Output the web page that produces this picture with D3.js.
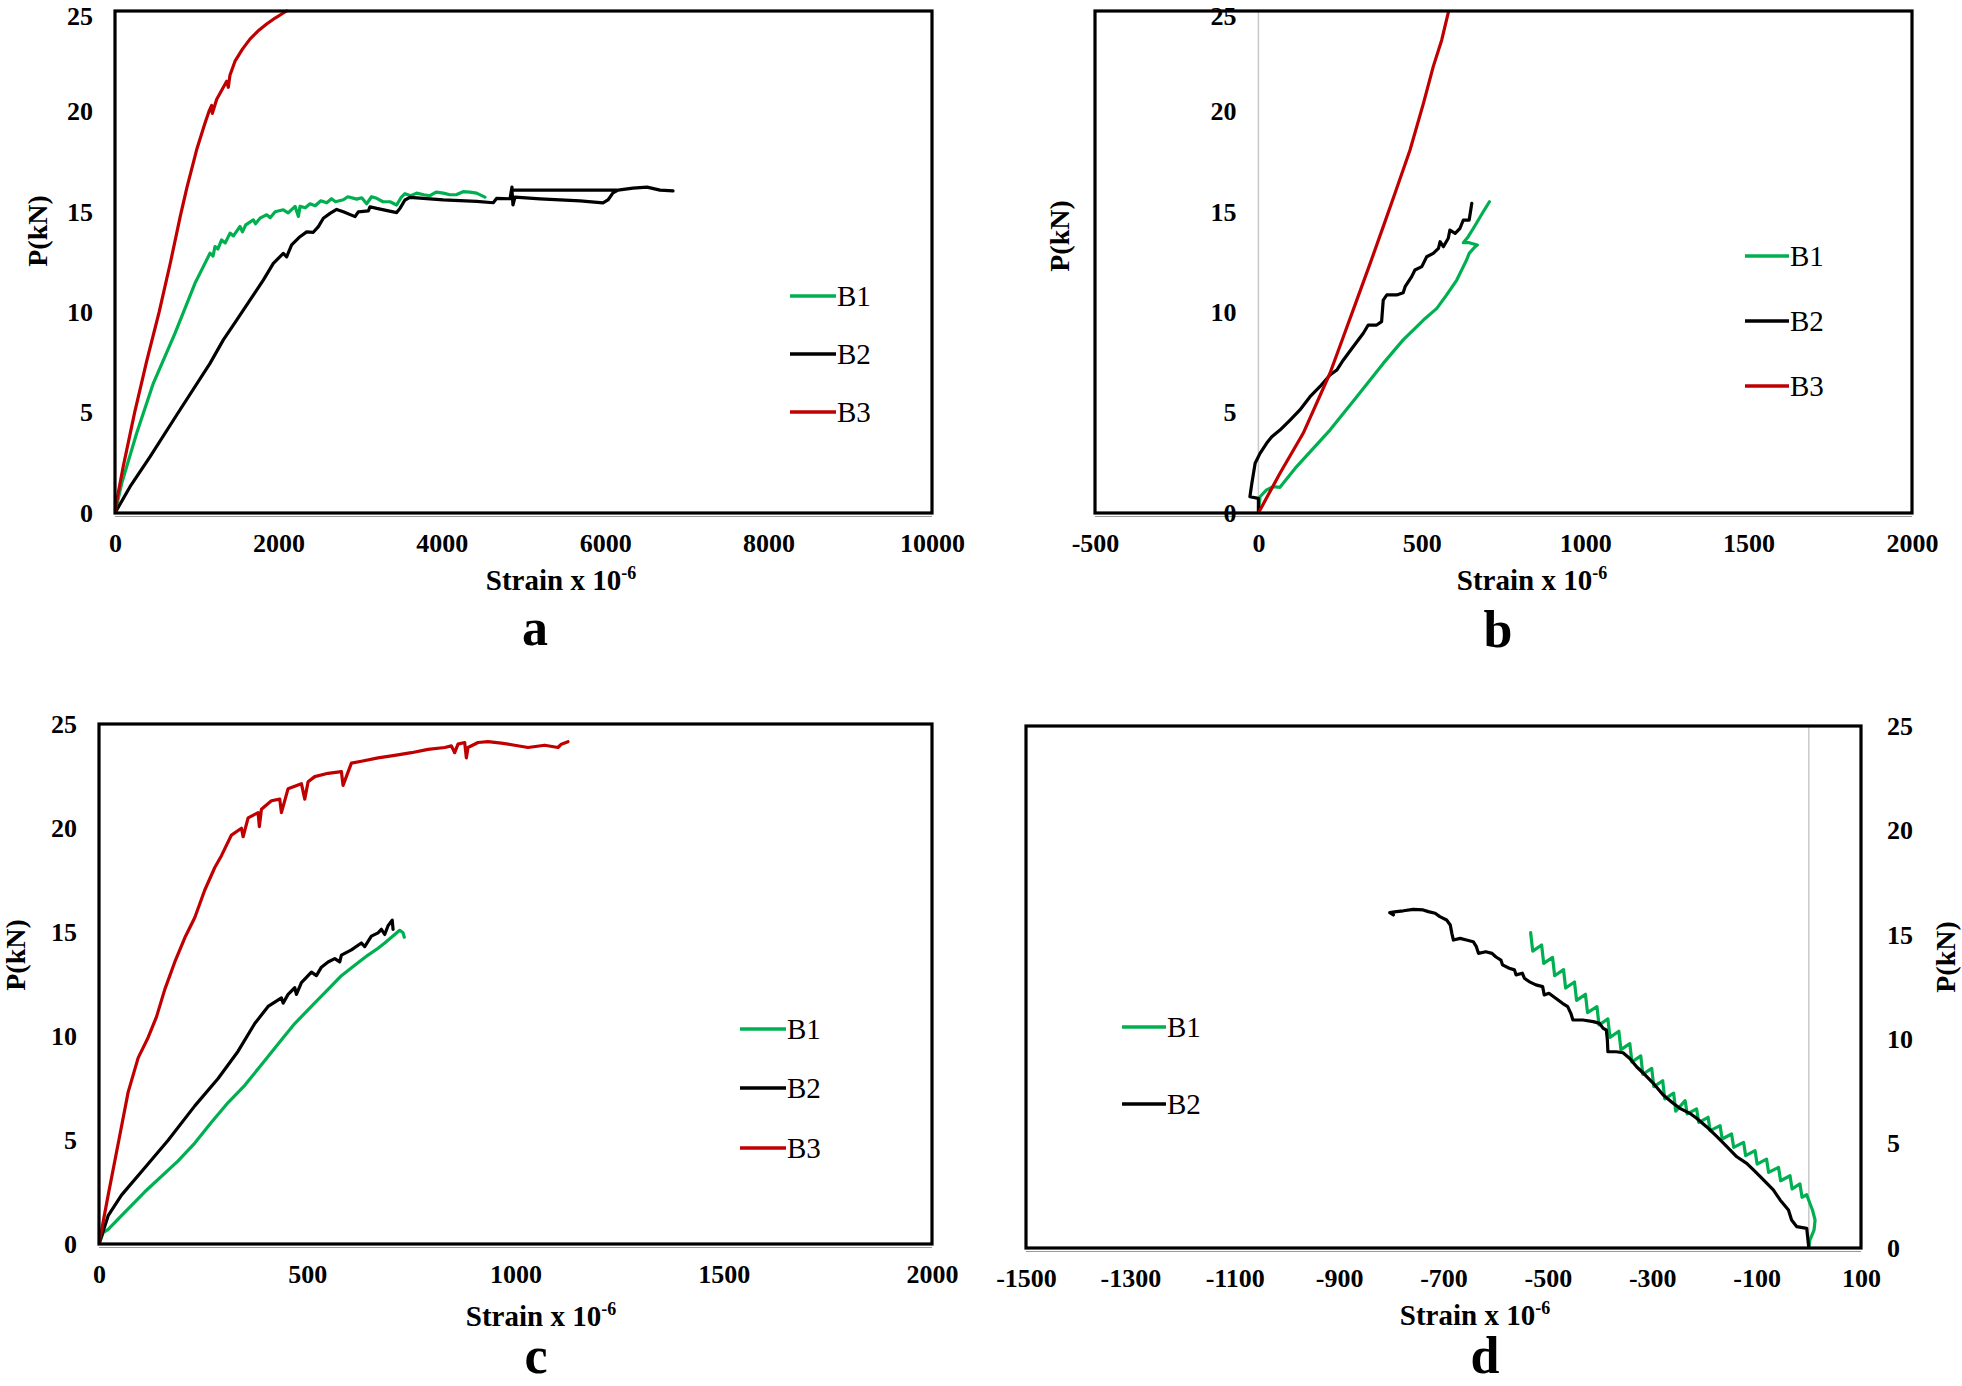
<!DOCTYPE html>
<html><head><meta charset="utf-8">
<script src="https://cdn.jsdelivr.net/npm/d3@7"></script>
<style>body{margin:0;background:#fff} svg{display:block}</style>
</head><body>
<svg id="chart" width="1962" height="1386"></svg>
<script>
// ---------- tick labels ----------
const loadTicks = [0, 5, 10, 15, 20, 25];
const aStrainTicks = [0, 2000, 4000, 6000, 8000, 10000];
const bStrainTicks = [-500, 0, 500, 1000, 1500, 2000];
const cStrainTicks = [0, 500, 1000, 1500, 2000];
const dStrainTicks = [-1500, -1300, -1100, -900, -700, -500, -300, -100, 100];
const seriesNames = ["B1", "B2", "B3"];

// ---------- data: [strain x 1e-6, P (kN)] ----------
const aB1 = [[0,0],[82,1.48],[265,3.97],[469,6.46],[734,8.95],[897,10.6],[979,11.44],[1081,12.27],[1163,12.94],[1200,12.8],[1224,13.27],[1260,13.15],[1305,13.6],[1350,13.45],[1408,13.94],[1450,13.8],[1530,14.27],[1560,14.0],[1600,14.35],[1693,14.6],[1720,14.4],[1780,14.7],[1857,14.85],[1900,14.7],[1960,15.0],[2060,15.1],[2120,14.95],[2204,15.27],[2245,14.77],[2265,15.27],[2330,15.2],[2387,15.4],[2450,15.3],[2520,15.55],[2591,15.45],[2650,15.65],[2700,15.5],[2795,15.6],[2850,15.75],[2958,15.63],[3020,15.7],[3080,15.4],[3140,15.75],[3203,15.67],[3280,15.5],[3366,15.5],[3447,15.34],[3500,15.7],[3549,15.9],[3620,15.8],[3692,15.93],[3780,15.85],[3855,15.8],[3930,15.98],[4018,15.93],[4100,15.85],[4182,15.86],[4260,16.0],[4345,15.98],[4426,15.93],[4528,15.73]];
const aB2 = [[0,0],[184,1.31],[428,2.8],[755,4.88],[1163,7.45],[1326,8.62],[1489,9.61],[1652,10.6],[1815,11.6],[1938,12.43],[2060,12.93],[2101,12.76],[2162,13.35],[2264,13.76],[2346,14.0],[2427,13.98],[2489,14.26],[2550,14.68],[2632,14.92],[2713,15.12],[2795,15.0],[2938,14.76],[2978,15.0],[3101,15.05],[3121,15.25],[3203,15.17],[3448,14.96],[3488,15.17],[3549,15.59],[3611,15.72],[4018,15.59],[4427,15.52],[4630,15.45],[4672,15.67],[4835,15.65],[4859,16.23],[4859,16.08],[6144,16.08],[4859,16.08],[4871,15.34],[4896,15.73],[5202,15.64],[5447,15.59],[5692,15.54],[5973,15.44],[6034,15.59],[6095,15.94],[6157,16.08],[6340,16.18],[6512,16.23],[6671,16.08],[6830,16.04]];
const aB3 = [[0,0],[30,0.8],[100,2.3],[240,5.0],[390,7.6],[540,10.0],[680,12.5],[800,14.8],[880,16.2],[1000,18.1],[1100,19.4],[1150,20.0],[1183,20.3],[1191,19.9],[1245,20.6],[1367,21.5],[1387,21.2],[1407,21.8],[1469,22.5],[1560,23.1],[1652,23.6],[1750,24.0],[1856,24.35],[1960,24.65],[2060,24.9],[2101,25.0]];

const bB1 = [[0,0],[5,0.81],[25,1.15],[46,1.31],[66,1.28],[117,2.31],[219,4.13],[301,5.79],[382,7.45],[443,8.62],[505,9.61],[546,10.19],[576,10.86],[607,11.6],[627,12.27],[637,12.6],[645,12.93],[663,13.26],[670,13.35],[645,13.46],[627,13.46],[642,13.76],[658,14.18],[673,14.59],[688,15.0],[707,15.5]];
const bB2 = [[0,0],[0,0.73],[-26,0.81],[-20,1.48],[-15,1.98],[-10,2.48],[5,2.97],[25,3.47],[41,3.8],[66,4.13],[97,4.63],[127,5.13],[158,5.79],[188,6.29],[219,6.87],[240,7.12],[260,7.62],[290,8.28],[321,8.95],[336,9.36],[362,9.36],[377,9.53],[382,10.6],[393,10.86],[423,10.86],[443,10.97],[449,11.27],[469,11.77],[479,12.1],[500,12.27],[515,12.76],[535,12.93],[551,13.18],[556,13.51],[566,13.26],[581,13.68],[586,14.09],[602,13.93],[617,14.18],[627,14.59],[645,14.59],[653,15.42]];
const bB3 = [[0,0],[66,1.98],[137,3.97],[219,6.96],[260,8.78],[301,10.6],[342,12.43],[382,14.26],[418,15.92],[464,18.08],[505,20.4],[535,22.23],[561,23.56],[581,24.92]];

const cB1 = [[0,0],[10,0.54],[22,0.7],[54,1.36],[110,2.51],[190,4.0],[230,4.85],[270,5.85],[310,6.8],[350,7.63],[390,8.62],[430,9.61],[470,10.6],[510,11.42],[550,12.24],[582,12.9],[614,13.4],[646,13.89],[670,14.22],[686,14.47],[710,14.88],[722,15.08],[730,14.96],[733,14.75]];
const cB2 = [[0,0],[22,1.36],[54,2.35],[110,3.67],[166,4.99],[230,6.64],[286,7.96],[334,9.27],[374,10.6],[406,11.42],[438,11.83],[442,11.58],[454,12.0],[470,12.32],[474,12.0],[486,12.57],[510,13.07],[522,12.9],[534,13.31],[550,13.56],[566,13.72],[578,13.56],[582,13.89],[606,14.14],[630,14.47],[638,14.3],[654,14.8],[670,14.96],[678,15.13],[686,14.88],[694,15.3],[704,15.57],[706,15.13]];
const cB3 = [[0,0],[22,2.35],[46,4.82],[70,7.3],[94,8.95],[118,9.93],[138,10.92],[158,12.24],[182,13.56],[206,14.72],[230,15.7],[254,17.02],[278,18.1],[294,18.67],[318,19.66],[342,19.99],[346,19.58],[358,20.49],[382,20.74],[385,20.07],[390,20.9],[414,21.31],[434,21.39],[438,20.74],[454,21.89],[486,22.13],[494,21.39],[502,22.22],[518,22.47],[550,22.63],[582,22.71],[586,22.05],[606,23.12],[630,23.21],[670,23.37],[710,23.49],[750,23.62],[790,23.78],[830,23.87],[846,23.95],[854,23.62],[862,24.03],[878,24.11],[882,23.37],[886,23.87],[910,24.11],[934,24.15],[966,24.08],[998,23.98],[1030,23.87],[1070,23.98],[1102,23.87],[1110,24.03],[1126,24.15]];

const dB1 = [[-533,15.1],[-529,14.22],[-512,14.51],[-508,13.63],[-491,13.92],[-487,13.04],[-470,13.33],[-466,12.45],[-449,12.74],[-445,11.86],[-428,12.15],[-424,11.27],[-406,11.56],[-402,10.68],[-385,10.97],[-381,10.09],[-364,10.38],[-360,9.5],[-343,9.79],[-339,8.91],[-322,9.2],[-318,8.32],[-301,8.6],[-297,7.73],[-280,8.01],[-276,7.14],[-259,7.42],[-255,6.55],[-237,7.06],[-233,6.42],[-215,6.66],[-211,6.02],[-193,6.26],[-189,5.62],[-170,5.86],[-166,5.22],[-148,5.46],[-144,4.82],[-125,5.06],[-121,4.42],[-103,4.66],[-99,4.02],[-81,4.26],[-77,3.62],[-58,3.86],[-54,3.22],[-36,3.46],[-32,2.83],[-17,3.07],[-13,2.43],[-4,2.55],[2,2.14],[7,1.82],[12,1.34],[10,0.86],[2,0.38],[0,0]];
const dB2 = [[0,0],[-4,0.94],[-23,1.02],[-33,1.34],[-39,1.82],[-55,2.3],[-68,2.78],[-93,3.42],[-106,3.74],[-119,4.05],[-138,4.37],[-157,4.85],[-176,5.33],[-196,5.81],[-215,6.21],[-228,6.45],[-247,6.69],[-260,6.93],[-279,7.33],[-298,7.89],[-317,8.37],[-330,8.68],[-343,9.08],[-356,9.35],[-369,9.4],[-385,9.4],[-386,9.96],[-388,10.44],[-394,10.52],[-401,10.76],[-413,10.84],[-433,10.92],[-452,10.92],[-456,11.24],[-462,11.56],[-472,11.72],[-485,11.96],[-498,12.2],[-507,12.12],[-510,12.52],[-523,12.6],[-536,12.76],[-545,12.92],[-549,13.16],[-561,13.08],[-564,13.32],[-574,13.4],[-587,13.56],[-590,13.79],[-600,13.95],[-607,14.11],[-619,14.19],[-633,14.11],[-637,14.43],[-643,14.67],[-656,14.75],[-668,14.83],[-681,14.75],[-684,15.07],[-687,15.47],[-694,15.71],[-707,15.87],[-716,16.03],[-729,16.11],[-739,16.19],[-758,16.22],[-777,16.15],[-790,16.11],[-803,16.06],[-796,15.95]];

// ---------- styling / layout ----------
const colors = {B1: "#00B050", B2: "#000000", B3: "#C00000"};
const serif = "'Liberation Serif','Times New Roman',serif";

const panels = [
  {letter:"a", l:115, r:932, t:11, b:513, xDomain:[0,10000], xTicks:aStrainTicks, series:{B1:aB1,B2:aB2,B3:aB3},
   yAxis:"left", zeroLine:false, titleX:561, titleDy:77, pX:47, pY:231, letterX:535, letterY:645, topNudge:5,
   legend:{x1:790, x2:836, y:[296,354,412]}},
  {letter:"b", l:1095, r:1912, t:11, b:513, xDomain:[-500,2000], xTicks:bStrainTicks, series:{B1:bB1,B2:bB2,B3:bB3},
   yAxis:"zero", zeroLine:true, titleX:1532, titleDy:77, pX:1069, pY:236, letterX:1498, letterY:647, topNudge:5,
   legend:{x1:1745, x2:1789, y:[256,321,386]}},
  {letter:"c", l:99, r:932, t:724, b:1244, xDomain:[0,2000], xTicks:cStrainTicks, series:{B1:cB1,B2:cB2,B3:cB3},
   yAxis:"left", zeroLine:false, titleX:541, titleDy:82, pX:25, pY:955, letterX:536, letterY:1373, topNudge:0,
   legend:{x1:740, x2:786, y:[1029,1088,1148]}},
  {letter:"d", l:1026, r:1861, t:726, b:1248, xDomain:[-1500,100], xTicks:dStrainTicks, series:{B1:dB1,B2:dB2},
   yAxis:"right", zeroLine:true, titleX:1475, titleDy:77, pX:1955, pY:957, letterX:1485, letterY:1373, topNudge:0,
   legend:{x1:1122, x2:1166, y:[1027,1104]}}
];

const svg = d3.select("#chart");
svg.append("rect").attr("width",1962).attr("height",1386).attr("fill","#fff");

panels.forEach((p, i) => {
  const x = d3.scaleLinear().domain(p.xDomain).range([p.l, p.r]);
  const y = d3.scaleLinear().domain([0, 25]).range([p.b, p.t]);
  const g = svg.append("g");
  const clipId = "clip" + i;
  g.append("clipPath").attr("id", clipId).append("rect")
    .attr("x", p.l).attr("y", p.t - 2).attr("width", p.r - p.l).attr("height", p.b - p.t + 2);

  // gray zero axis lines
  g.append("line").attr("x1", p.l).attr("x2", p.r).attr("y1", p.b + 3.5).attr("y2", p.b + 3.5)
    .attr("stroke", "#9a9a9a").attr("stroke-width", 1.2);
  if (p.zeroLine) {
    g.append("line").attr("x1", x(0)).attr("x2", x(0)).attr("y1", p.t).attr("y2", p.b)
      .attr("stroke", "#c8c8c8").attr("stroke-width", 1.5);
  }

  // x axis labels
  const xa = d3.axisBottom(x).tickValues(p.xTicks).tickSize(0).tickPadding(21).tickFormat(d => String(d));
  const xg = g.append("g").attr("transform", `translate(0,${p.b})`).call(xa);
  xg.select(".domain").remove();
  xg.selectAll("text").attr("font-family", serif).attr("font-weight", "bold").attr("font-size", 26).attr("fill", "#000");

  // y axis labels
  let ya, yx;
  if (p.yAxis === "left") { ya = d3.axisLeft(y).tickPadding(22); yx = p.l; }
  else if (p.yAxis === "zero") { ya = d3.axisLeft(y).tickPadding(22); yx = x(0); }
  else { ya = d3.axisRight(y).tickPadding(26); yx = p.r; }
  ya.tickValues(loadTicks).tickSize(0).tickFormat(d => String(d));
  const yg = g.append("g").attr("transform", `translate(${yx},0)`).call(ya);
  yg.select(".domain").remove();
  yg.selectAll("text").attr("font-family", serif).attr("font-weight", "bold").attr("font-size", 26).attr("fill", "#000");
  yg.selectAll(".tick").filter(d => d === 25).select("text").attr("y", p.topNudge);

  // data lines
  const line = d3.line().x(d => x(d[0])).y(d => y(d[1]));
  const names = Object.keys(p.series);
  names.forEach(name => {
    g.append("path").datum(p.series[name]).attr("d", line)
      .attr("fill", "none").attr("stroke", colors[name]).attr("stroke-width", 3.2)
      .attr("stroke-linejoin", "round").attr("stroke-linecap", "round")
      .attr("clip-path", `url(#${clipId})`);
  });

  // plot border
  g.append("rect").attr("x", p.l).attr("y", p.t).attr("width", p.r - p.l).attr("height", p.b - p.t)
    .attr("fill", "none").attr("stroke", "#000").attr("stroke-width", 3.2);

  // legend
  names.forEach((name, k) => {
    const ly = p.legend.y[k];
    g.append("line").attr("x1", p.legend.x1).attr("x2", p.legend.x2).attr("y1", ly).attr("y2", ly)
      .attr("stroke", colors[name]).attr("stroke-width", 3.5);
    g.append("text").attr("x", p.legend.x2 + 1).attr("y", ly + 10)
      .attr("font-family", serif).attr("font-size", 29).attr("fill", "#000").text(name);
  });

  // x axis title
  const t = g.append("text").attr("x", p.titleX).attr("y", p.b + p.titleDy).attr("text-anchor", "middle")
    .attr("font-family", serif).attr("font-weight", "bold").attr("font-size", 29).attr("fill", "#000");
  t.append("tspan").text("Strain x 10");
  t.append("tspan").attr("dy", -11).attr("font-size", 18).text("-6");

  // y axis title
  g.append("text").attr("transform", `translate(${p.pX},${p.pY}) rotate(-90)`).attr("text-anchor", "middle")
    .attr("font-family", serif).attr("font-weight", "bold").attr("font-size", 28).attr("fill", "#000").text("P(kN)");

  // panel letter
  g.append("text").attr("x", p.letterX).attr("y", p.letterY).attr("text-anchor", "middle")
    .attr("font-family", serif).attr("font-weight", "bold").attr("font-size", 52).attr("fill", "#000").text(p.letter);
});
</script>
</body></html>
